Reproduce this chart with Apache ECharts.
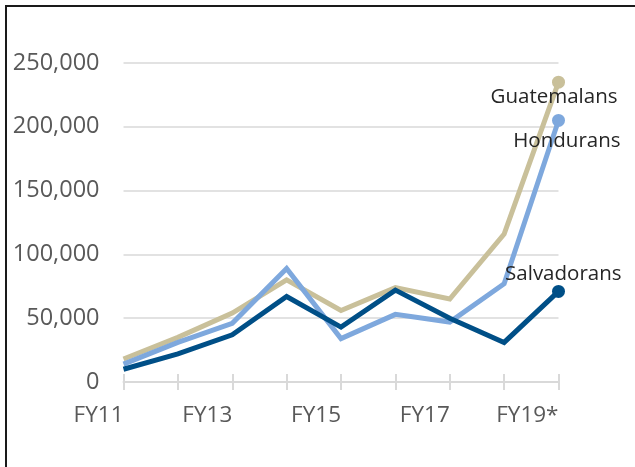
<!DOCTYPE html>
<html>
<head>
<meta charset="utf-8">
<script src="https://cdn.jsdelivr.net/npm/echarts@6/dist/echarts.min.js"></script>
<style>
  html, body { margin: 0; padding: 0; background: #fff; }
  #chart { width: 635px; height: 467px; }
</style>
</head>
<body>
<div id="chart"></div>
<script>
// categories and values
const years = ["FY11", "FY12", "FY13", "FY14", "FY15", "FY16", "FY17", "FY18", "FY19*"];
const guatemalans = [18000, 35000, 54000, 80000, 56000, 74000, 65000, 116000, 235000];
const hondurans = [14000, 31000, 46000, 89000, 34000, 53000, 47000, 77000, 205000];
const salvadorans = [10000, 22000, 37000, 67000, 43000, 72000, 50000, 31000, 71000];
const yTicks = [0, 50000, 100000, 150000, 200000, 250000];

const FONT = "Open Sans";
const last = years.length - 1;

// only the last point gets a dot and the series name
function withEndLabel(values, offset) {
  return values.map((v, i) => {
    if (i !== last) return v;
    return {
      value: v,
      label: {
        show: true,
        position: "inside",
        align: "right",
        verticalAlign: "middle",
        offset: offset,
        formatter: "{a}",
        color: "#262626",
        fontFamily: FONT,
        fontSize: 20.5,
      },
    };
  });
}

function lineSeries(name, values, color, offset) {
  return {
    name: name,
    type: "line",
    data: withEndLabel(values, offset),
    symbol: "circle",
    symbolSize: (val, params) => (params.dataIndex === last ? 13 : 0),
    showAllSymbol: true,
    itemStyle: { color: color },
    lineStyle: { color: color, width: 5, join: "miter" },
    emphasis: { disabled: true },
    animation: false,
  };
}

const chart = echarts.init(document.getElementById("chart"));

chart.setOption({
  animation: false,
  grid: { left: 123.5, right: 76.5, top: 63, bottom: 85 },
  xAxis: [
    {
      type: "category",
      data: years,
      boundaryGap: false,
      axisLine: { lineStyle: { color: "#d9d9d9", width: 2 } },
      axisTick: { show: true, interval: 0, length: 8, lineStyle: { color: "#d9d9d9", width: 2 } },
      axisLabel: {
        interval: 1,
        align: "right",
        margin: 22,
        color: "#595959",
        fontFamily: FONT,
        fontSize: 22.5,
      },
    },
    {
      // second axis only to draw the upper half of the crossing ticks
      type: "category",
      data: years,
      boundaryGap: false,
      position: "top",
      offset: -319,
      axisLine: { show: false },
      axisTick: { show: true, interval: 0, length: 8, lineStyle: { color: "#d9d9d9", width: 2 } },
      axisLabel: { show: false },
    },
  ],
  yAxis: {
    type: "value",
    min: yTicks[0],
    max: yTicks[yTicks.length - 1],
    interval: yTicks[1] - yTicks[0],
    axisLine: { show: false },
    axisTick: { show: false },
    splitLine: { lineStyle: { color: "#d9d9d9", width: 1.5 } },
    axisLabel: {
      margin: 24,
      color: "#595959",
      fontFamily: FONT,
      fontSize: 23.5,
      formatter: (v) => v.toLocaleString("en-US"),
    },
  },
  series: [
    lineSeries("Guatemalans", guatemalans, "#c9c09a", [59, 15]),
    lineSeries("Hondurans", hondurans, "#7ea8dd", [62, 21]),
    lineSeries("Salvadorans", salvadorans, "#004f87", [63, -17]),
  ],
  graphic: [
    {
      type: "polyline",
      silent: true,
      shape: { points: [[6, 467], [6, 6], [635, 6]] },
      style: { stroke: "#1a1a1a", lineWidth: 2, fill: null },
    },
  ],
});
</script>
</body>
</html>
